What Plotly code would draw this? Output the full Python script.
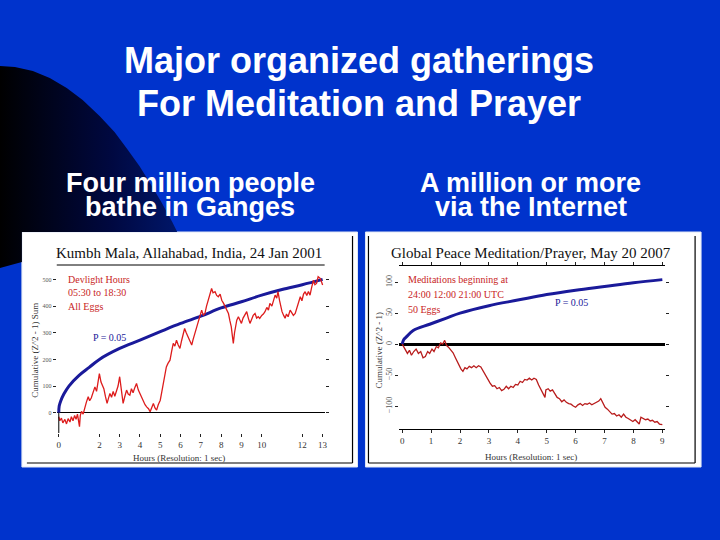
import plotly.graph_objects as go

W, H = 720, 540
def px(x): return x / W
def py(y): return 1 - y / H

# ---------------- DATA ----------------
slide_title_lines = ["Major organized gatherings", "For Meditation and Prayer"]
left_caption_lines = ["Four million people", "bathe in Ganges"]
right_caption_lines = ["A million or more", "via the Internet"]

left_title = "Kumbh Mala, Allahabad, India, 24 Jan 2001"
left_notes = ["Devlight Hours", "05:30 to 18:30", "All Eggs"]
left_xticks = [0, 2, 3, 4, 5, 6, 7, 8, 9, 10, 12, 13]
left_yticks = [0, 100, 200, 300, 400, 500]

left_hours = [0, 0.05, 0.13, 0.2, 0.3, 0.38, 0.46, 0.55, 0.62, 0.7, 0.78, 0.85, 0.92, 0.97, 1.02, 1.06,
              1.12, 1.2, 1.28, 1.36, 1.45, 1.52, 1.6, 1.68, 1.78, 1.86, 1.93, 2.0, 2.08, 2.15, 2.22, 2.3,
              2.38, 2.45, 2.52, 2.6, 2.68, 2.76, 2.85, 2.92, 3.0, 3.08, 3.17, 3.25, 3.34, 3.42, 3.5, 3.58,
              3.66, 3.75, 3.83, 3.92, 4.0, 4.08, 4.16, 4.25, 4.33, 4.42, 4.5, 4.58, 4.66, 4.74, 4.82, 4.9,
              5.0, 5.08, 5.15, 5.22, 5.3, 5.38, 5.48, 5.56, 5.64, 5.72, 5.8, 5.88, 5.97, 6.05, 6.12, 6.2,
              6.28, 6.38, 6.46, 6.55, 6.62, 6.7, 6.78, 6.87, 6.95, 7.04, 7.12, 7.2, 7.28, 7.37, 7.45, 7.53,
              7.6, 7.7, 7.78, 7.86, 7.95, 8.03, 8.12, 8.2, 8.28, 8.36, 8.43, 8.5, 8.55, 8.6, 8.66, 8.72,
              8.77, 8.85, 8.92, 9.0, 9.08, 9.16, 9.26, 9.34, 9.42, 9.5, 9.58, 9.67, 9.75, 9.83, 9.9, 10.0,
              10.08, 10.16, 10.25, 10.33, 10.4, 10.5, 10.58, 10.66, 10.74, 10.8, 10.88, 10.95, 11.0, 11.08,
              11.15, 11.22, 11.3, 11.4, 11.48, 11.56, 11.65, 11.73, 11.8, 11.9, 11.98, 12.06, 12.14, 12.22,
              12.3, 12.38, 12.46, 12.55, 12.62, 12.7, 12.78, 12.88, 12.95, 13.0]
left_cum = [-15, -30, -20, -38, -25, -42, -22, -35, -15, -30, -10, -25, -5, -35, -52, -10,
            5, -5, 22, 40, 60, 45, 55, 75, 97, 80, 110, 147, 115, 100, 90, 60,
            35, 55, 72, 58, 80, 62, 85, 100, 135, 90, 35, 60, 85, 70, 66, 90,
            75, 95, 110, 85, 72, 55, 41, 30, 22, 15, 4, 20, 35, 18, 10, 30,
            47, 80, 110, 140, 172, 185, 197, 230, 260, 250, 272, 255, 241, 270, 295, 316,
            300, 285, 270, 254, 275, 297, 315, 335, 360, 385, 365, 372, 400, 422, 445, 466,
            450, 454, 440, 435, 445, 422, 410, 397, 385, 372, 345, 322, 290, 260, 300, 330,
            347, 360, 345, 335, 355, 365, 379, 355, 335, 350, 365, 372, 355, 360, 354, 365,
            370, 379, 395, 385, 410, 400, 425, 441, 430, 454, 420, 395, 379, 365,
            354, 370, 360, 385, 375, 365, 372, 395, 410, 435, 420, 445, 454, 440,
            455, 441, 470, 497, 480, 485, 510, 504, 490, 479]

left_p05_hours = [0, 0.02, 0.1, 0.25, 0.5, 1, 1.5, 2, 3, 4, 5, 6, 7, 8, 9, 10, 11, 12, 13]
left_p05 = [0, 25, 45, 70, 100, 140, 170, 200, 241, 272, 304, 335, 362, 393, 416, 441, 462, 480, 500]

right_title = "Global Peace Meditation/Prayer, May 20 2007"
right_notes = ["Meditations beginning at", "24:00 12:00 21:00 UTC", "50 Eggs"]
right_xticks = [0, 1, 2, 3, 4, 5, 6, 7, 8, 9]
right_yticks = [100, 50, 0, -50, -100]

right_hours = [0, 0.1, 0.18, 0.25, 0.32, 0.4, 0.48, 0.56, 0.64, 0.72, 0.8, 0.88, 0.95, 1.03, 1.1,
               1.18, 1.25, 1.33, 1.4, 1.47, 1.53, 1.6, 1.68, 1.76, 1.84, 1.9, 1.96, 2.03, 2.1, 2.17,
               2.24, 2.32, 2.4, 2.48, 2.56, 2.64, 2.72, 2.8, 2.88, 2.96, 3.04, 3.12, 3.2, 3.28, 3.36,
               3.44, 3.52, 3.6, 3.68, 3.76, 3.84, 3.92, 4.0, 4.08, 4.16, 4.24, 4.32, 4.4, 4.48, 4.56,
               4.64, 4.72, 4.8, 4.88, 4.94, 4.97, 5.05, 5.12, 5.2, 5.28, 5.36, 5.44, 5.52, 5.6, 5.68,
               5.76, 5.84, 5.92, 6.0, 6.08, 6.16, 6.24, 6.32, 6.4, 6.48, 6.56, 6.64, 6.72, 6.8, 6.87,
               6.94, 7.02, 7.1, 7.18, 7.26, 7.34, 7.42, 7.5, 7.58, 7.66, 7.74, 7.82, 7.9, 7.98, 8.06,
               8.14, 8.2, 8.26, 8.34, 8.42, 8.5, 8.58, 8.66, 8.74, 8.82, 8.9, 9.0]
right_cum = [0, -8, -15, -10, -18, -12, -8, -15, -12, -22, -20, -12, -15, -8, -12,
             -4, -6, 2, 0, 6, -2, -5, -10, -14, -22, -28, -33, -40, -44, -38,
             -40, -36, -38, -35, -38, -35, -37, -44, -50, -56, -63, -68, -67, -72, -70,
             -75, -73, -68, -72, -68, -70, -65, -66, -60, -62, -57, -58, -55, -58, -55,
             -57, -66, -73, -80, -86, -74, -72, -76, -74, -80, -86, -88, -93, -90, -94,
             -96, -97, -100, -102, -98, -96, -99, -96, -97, -95, -98, -96, -94, -92, -88,
             -94, -102, -105, -110, -113, -112, -116, -114, -118, -113, -118, -120, -122, -125, -122,
             -127, -129, -118, -120, -122, -121, -124, -123, -126, -125, -129, -130]

right_p05_hours = [0, 0.05, 0.15, 0.38, 0.95, 1.53, 2, 3, 4, 5, 6, 7, 8, 9]
right_p05 = [0, 7, 12, 22, 32, 42, 50, 62, 71, 80, 87, 93, 99, 104]

x_label = "Hours (Resolution: 1 sec)"
y_label = "Cumulative (Z^2 - 1)"

# ---------------- STYLE ----------------
BG = "#0033cc"
RED_L = "#dd1c1c"
RED_R = "#b81c1c"
BLUE = "#1a1a9a"
SERIF = "Liberation Serif, Times New Roman, serif"
SANS = "Liberation Sans, Arial, sans-serif"

fig = go.Figure()

# decorative dark curved shape (background), drawn on a full-page helper axis
curve_x = [0, 15, 33, 50, 67, 83, 100, 115, 127, 140, 150, 162, 173, 178, 22, 22, 0]
curve_y = [66, 67, 71, 78, 88, 100, 116, 132, 148, 166, 182, 202, 222, 232, 232, 262, 268]
fig.add_trace(go.Scatter(x=curve_x, y=curve_y, xaxis="x3", yaxis="y3", mode="lines",
                         line=dict(width=0), fill="toself",
                         fillgradient=dict(type="horizontal", start=0, stop=185,
                                           colorscale=[[0, "#000000"], [0.6, "#000840"], [1, "#00186e"]]),
                         hoverinfo="skip", showlegend=False))

# left chart
fig.add_trace(go.Scatter(x=left_p05_hours, y=left_p05, mode="lines", line=dict(color=BLUE, width=3, shape="spline"),
                         xaxis="x", yaxis="y", showlegend=False))
fig.add_trace(go.Scatter(x=left_hours, y=left_cum, mode="lines", line=dict(color=RED_L, width=1.3),
                         xaxis="x", yaxis="y", showlegend=False))
# right chart
fig.add_trace(go.Scatter(x=right_p05_hours, y=right_p05, mode="lines", line=dict(color=BLUE, width=3, shape="spline"),
                         xaxis="x2", yaxis="y2", showlegend=False))
fig.add_trace(go.Scatter(x=right_hours, y=right_cum, mode="lines", line=dict(color=RED_R, width=1.3),
                         xaxis="x2", yaxis="y2", showlegend=False))

L_XR = [-0.1, 13.1]
L_YR = [-76, 554]
R_XR = [-0.1, 9.1]
R_YR = [-137, 126]

tickfont = dict(family=SERIF, size=9, color="#333333")
axcommon = dict(showgrid=False, ticks="outside", ticklen=3, tickcolor="#222222", tickwidth=1)

fig.update_layout(
    width=W, height=H, margin=dict(l=0, r=0, t=0, b=0),
    paper_bgcolor=BG, plot_bgcolor="rgba(0,0,0,0)",
    xaxis=dict(domain=[px(57), px(326)], range=L_XR, tickvals=left_xticks, showline=False,
               zeroline=False, tickfont=tickfont, anchor="y", **axcommon),
    yaxis=dict(domain=[py(433), py(265)], range=L_YR, tickvals=left_yticks, showline=False,
               zeroline=True, zerolinecolor="#000000", zerolinewidth=1.2, mirror="ticks",
               tickfont=dict(family=SERIF, size=6, color="#555555"), anchor="x", **axcommon),
    xaxis2=dict(domain=[px(401), px(668)], range=R_XR, tickvals=right_xticks, showline=True, linecolor="#000000",
                linewidth=1.2, mirror="ticks", zeroline=False, tickfont=tickfont, anchor="y2", **axcommon),
    yaxis2=dict(domain=[py(429), py(266)], range=R_YR, tickvals=right_yticks, showline=False,
                zeroline=True, zerolinecolor="#000000", zerolinewidth=2.5, mirror="ticks", tickangle=-90,
                tickfont=dict(family=SERIF, size=8, color="#555555"), anchor="x2", **axcommon),
    xaxis3=dict(domain=[0, 1], range=[0, W], visible=False, fixedrange=True),
    yaxis3=dict(domain=[0, 1], range=[H, 0], visible=False, fixedrange=True, anchor="x3"),
)

shapes = []
# white chart panels
for x0, x1 in [(22, 359), (367, 704)]:
    shapes.append(dict(type="rect", xref="paper", yref="paper", x0=px(x0), x1=px(x1), y0=py(467), y1=py(232),
                       fillcolor="#ffffff", line=dict(color="#dfe6f5", width=1), layer="below"))
# panel frame lines
frame_lines = [(354, 236, 354, 463), (27, 463, 354, 463),
               (370, 236, 370, 463), (698, 236, 698, 463), (370, 463, 698, 463)]
for xa, ya, xb, yb in frame_lines:
    shapes.append(dict(type="line", xref="paper", yref="paper", x0=px(xa), y0=py(ya), x1=px(xb), y1=py(yb),
                       line=dict(color="#000000", width=1.2), layer="below"))
# left chart top line and short y axis segment
shapes.append(dict(type="line", xref="x domain", yref="y domain", x0=0, x1=1, y0=1, y1=1,
                   line=dict(color="#000000", width=1)))
shapes.append(dict(type="line", xref="x", yref="y", x0=0, x1=0, y0=L_YR[0], y1=0,
                   line=dict(color="#000000", width=1)))
fig.update_layout(shapes=shapes)

ann = []
def add(text, x, y, size, color, family=SERIF, xanchor="center", angle=0):
    ann.append(dict(text=text, x=px(x), y=py(y), xref="paper", yref="paper", showarrow=False,
                    xanchor=xanchor, yanchor="middle", textangle=angle, align="center",
                    font=dict(family=family, size=size, color=color)))

for i, t in enumerate(slide_title_lines):
    add("<b>" + t + "</b>", 360, 61 + 42 * i, 36, "white", SANS)
for i, t in enumerate(left_caption_lines):
    add("<b>" + t + "</b>", 191, 183 + 24 * i, 27, "white", SANS)
for i, t in enumerate(right_caption_lines):
    add("<b>" + t + "</b>", 533, 183 + 24 * i, 27, "white", SANS)
add(left_title, 190, 253, 15, "#111111")
add(right_title, 533, 253, 15, "#111111")
for i, t in enumerate(left_notes):
    add(t, 66, 279 + 13.5 * i, 10, "#c81e1e", xanchor="left")
for i, t in enumerate(right_notes):
    add(t, 408, 279 + 15 * i, 10, "#c81e1e", xanchor="left")
add("P = 0.05", 91, 337, 10, BLUE, xanchor="left")
add("P = 0.05", 555, 302, 10, BLUE, xanchor="left")
add(x_label, 180, 458, 9, "#333333")
add(x_label, 533, 457, 9, "#333333")
add(y_label + " Sum", 35, 350, 9, "#333333", angle=-90)
add(y_label, 381, 350, 9, "#333333", angle=-90)
fig.update_layout(annotations=ann)

fig.write_html("out.html")
